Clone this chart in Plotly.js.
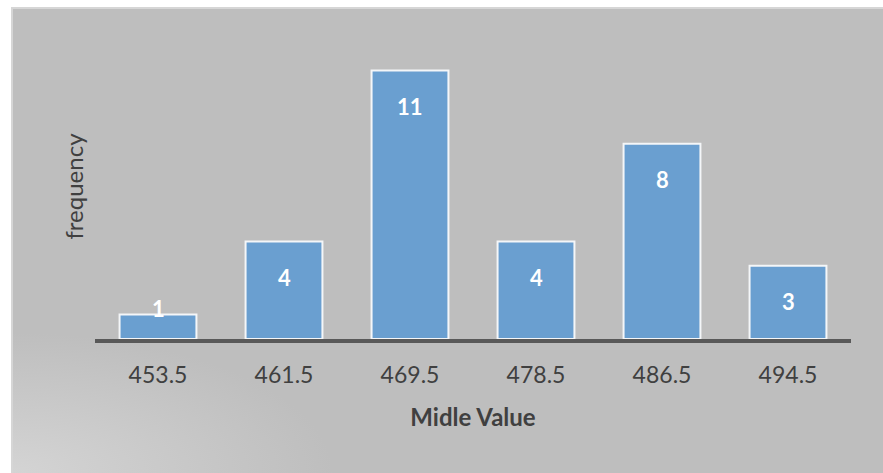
<!DOCTYPE html>
<html>
<head>
<meta charset="utf-8">
<script src="https://cdn.plot.ly/plotly-3.0.1.min.js"></script>
<style>
  html, body { margin: 0; padding: 0; background: #ffffff; width: 883px; height: 473px; overflow: hidden; }
  #bg {
    position: absolute; left: 11px; top: 7px; width: 872px; height: 466px;
    box-sizing: border-box;
    border-left: 2px solid #d6d6d6; border-top: 2px solid #d6d6d6;
    background: radial-gradient(ellipse 320px 140px at 0% 100%, #d4d4d4 0%, #c9c9c9 50%, #bebebe 100%), #bebebe;
  }
  #chart { position: absolute; left: 0; top: 0; width: 883px; height: 473px; }
</style>
</head>
<body>
<div id="bg"></div>
<div id="chart"></div>
<script>
const categories = ["453.5", "461.5", "469.5", "478.5", "486.5", "494.5"];
const frequency = [1, 4, 11, 4, 8, 3];
const xTitle = "Midle Value";
const yTitle = "frequency";

const FONT = "Lato, 'Open Sans', sans-serif";

const trace = {
  type: "bar",
  x: categories,
  y: frequency,
  width: 0.61,
  marker: { color: "#6a9fd0", line: { color: "#f4f6f8", width: 2 } },
  hoverinfo: "x+y"
};

const annotations = categories.map((c, i) => ({
  x: i, y: frequency[i], xref: "x", yref: "y",
  text: "<b>" + frequency[i] + "</b>",
  showarrow: false,
  yshift: frequency[i] >= 3 ? -36 : 6,
  font: { family: FONT, size: 22, color: "#ffffff" }
}));

const layout = {
  width: 883, height: 473,
  margin: { l: 95, r: 32, t: 34, b: 134 },
  paper_bgcolor: "rgba(0,0,0,0)",
  plot_bgcolor: "rgba(0,0,0,0)",
  showlegend: false,
  bargap: 0.39,
  font: { family: FONT, color: "#404040" },
  xaxis: {
    type: "category",
    range: [-0.5, 5.5],
    showline: true, linecolor: "#595959", linewidth: 4,
    ticks: "outside", ticklen: 12, tickcolor: "rgba(0,0,0,0)",
    tickfont: { size: 23, color: "#404040" },
    showgrid: false, zeroline: false,
    title: { text: "<b>" + xTitle + "</b>", font: { size: 24, color: "#404040" }, standoff: 24 }
  },
  yaxis: {
    range: [0, 12.5],
    showgrid: false, zeroline: false, showline: false,
    showticklabels: false, ticks: "",
    title: { text: yTitle, font: { size: 24, color: "#404040" }, standoff: 3 }
  },
  annotations: annotations
};

Plotly.newPlot("chart", [trace], layout, { displayModeBar: false, staticPlot: true });
</script>
</body>
</html>
